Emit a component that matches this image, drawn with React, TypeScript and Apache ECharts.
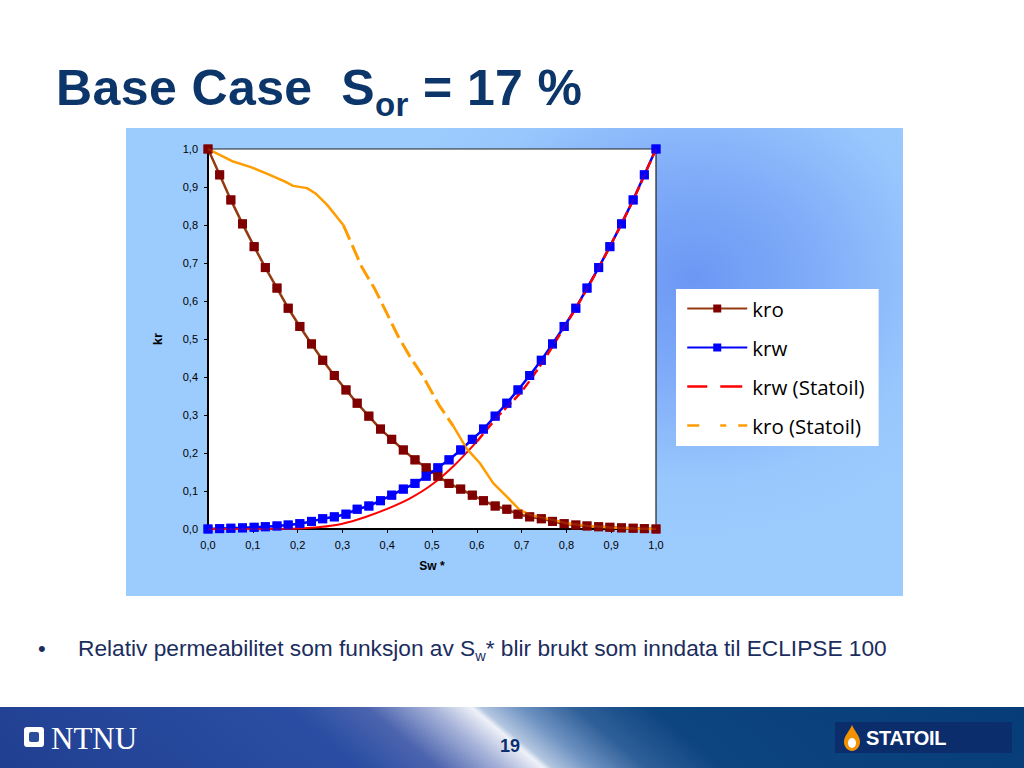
import React, { useEffect, useRef } from "react";
import * as echarts from "echarts";

// Normalised water saturation Sw* of the 40 tabulated rows
const swPoints = [
  0, 0.026, 0.051, 0.077, 0.103, 0.128, 0.154, 0.179, 0.205, 0.231,
  0.256, 0.282, 0.308, 0.333, 0.359, 0.385, 0.41, 0.436, 0.462, 0.487,
  0.513, 0.538, 0.564, 0.59, 0.615, 0.641, 0.667, 0.692, 0.718, 0.744,
  0.769, 0.795, 0.821, 0.846, 0.872, 0.897, 0.923, 0.949, 0.974, 1.0,
];
const kroValues = [
  1.0, 0.932, 0.866, 0.803, 0.743, 0.688, 0.634, 0.581, 0.533, 0.487,
  0.444, 0.404, 0.366, 0.331, 0.297, 0.263, 0.236, 0.208, 0.182, 0.161,
  0.139, 0.12, 0.105, 0.089, 0.0745, 0.0605, 0.052, 0.039, 0.032, 0.027,
  0.02, 0.014, 0.0105, 0.008, 0.006, 0.0045, 0.003, 0.002, 0.001, 0,
];
const krwValues = [
  0, 0.001, 0.002, 0.003, 0.0045, 0.006, 0.008, 0.0105, 0.014, 0.02,
  0.027, 0.032, 0.039, 0.052, 0.0605, 0.0745, 0.089, 0.105, 0.12, 0.139,
  0.161, 0.182, 0.208, 0.236, 0.263, 0.297, 0.331, 0.366, 0.404, 0.444,
  0.487, 0.533, 0.581, 0.634, 0.688, 0.743, 0.803, 0.866, 0.932, 1.0,
];
// Statoil curves
const krwStatoilSw = [
  0, 0.05, 0.1, 0.15, 0.2, 0.25, 0.3, 0.35, 0.4, 0.45, 0.5,
  0.55, 0.6, 0.65, 0.7, 0.75, 0.8, 0.85, 0.9, 0.95, 1.0,
];
const krwStatoilValues = [
  0, 0, 0, 0, 0.001, 0.005, 0.014, 0.031, 0.053, 0.08, 0.117,
  0.168, 0.23, 0.3, 0.362, 0.445, 0.54, 0.64, 0.75, 0.868, 1.0,
];
const krwStatoilDashFrom = 12;

const kroStatoilSw = [
  0, 0.025, 0.056, 0.094, 0.13, 0.172, 0.19, 0.221, 0.24, 0.266, 0.302,
  0.317, 0.343, 0.373, 0.399, 0.425, 0.451, 0.481, 0.507, 0.518, 0.548,
  0.577, 0.607, 0.637, 0.667, 0.696, 0.719, 0.77, 0.8, 0.85, 0.9, 0.95, 1.0,
];
const kroStatoilValues = [
  1.0, 0.985, 0.967, 0.953, 0.936, 0.914, 0.903, 0.897, 0.883, 0.853, 0.8,
  0.76, 0.69, 0.63, 0.568, 0.506, 0.453, 0.4, 0.344, 0.322, 0.27,
  0.212, 0.173, 0.12, 0.085, 0.05, 0.037, 0.024, 0.015, 0.008, 0.004, 0.001, 0,
];
const kroStatoilDashFrom = 10;
const kroStatoilDashTo = 20;

const legendNames = ["kro", "krw", "krw (Statoil)", "kro (Statoil)"];

const pairs = (xs: number[], ys: number[]) => xs.map((x, i) => [x, ys[i]]);
const fmt = (v: number) => v.toFixed(1).replace(".", ",");

function Chart() {
  const ref = useRef<HTMLDivElement>(null);
  useEffect(() => {
    if (!ref.current) return;
    const chart = echarts.init(ref.current, undefined, { renderer: "svg" });
    const kroData = pairs(swPoints, kroValues);
    const krwData = pairs(swPoints, krwValues);
    const redAll = pairs(krwStatoilSw, krwStatoilValues);
    const orgAll = pairs(kroStatoilSw, kroStatoilValues);
    const labelFont = { fontFamily: "Liberation Sans, Arial, sans-serif", fontSize: 11, color: "#000" };
    const kroColor = "#800000";
    const kroLine = "#943a12";
    const blue = "#0000ff";
    const red = "#ff0000";
    const orange = "#ff9c00";
    const noSymbol = { color: "rgba(0,0,0,0)", borderWidth: 0 };
    chart.setOption({
      animation: false,
      backgroundColor: "transparent",
      grid: {
        left: 82,
        top: 21,
        width: 448,
        height: 380,
        show: true,
        backgroundColor: "#ffffff",
        borderColor: "#222",
        borderWidth: 1.2,
      },
      legend: {
        data: [
          { name: legendNames[0] },
          { name: legendNames[1] },
          { name: legendNames[2], itemStyle: noSymbol, lineStyle: { type: [20, 13, 22, 10], width: 2.5 } },
          { name: legendNames[3], itemStyle: noSymbol, lineStyle: { type: [12, 21, 6, 12, 9, 10], width: 2.5 } },
        ],
        orient: "vertical",
        left: 550,
        top: 161,
        backgroundColor: "#ffffff",
        padding: [9, 14, 10, 10],
        itemGap: 18,
        itemWidth: 60,
        itemHeight: 10,
        selectedMode: false,
        textStyle: { fontSize: 20.5, fontFamily: "Open Sans, sans-serif", color: "#000" },
      },
      xAxis: {
        type: "value",
        min: 0,
        max: 1,
        interval: 0.1,
        name: "Sw *",
        nameLocation: "middle",
        nameGap: 31,
        nameTextStyle: { ...labelFont, fontSize: 12, fontWeight: "bold" },
        axisLine: { show: true, lineStyle: { color: "#000", width: 2 } },
        axisTick: { show: true, length: 4, lineStyle: { color: "#000", width: 1 } },
        axisLabel: { ...labelFont, margin: 10, formatter: fmt },
        splitLine: { show: false },
      },
      yAxis: {
        type: "value",
        min: 0,
        max: 1,
        interval: 0.1,
        name: "kr",
        nameLocation: "middle",
        nameRotate: 90,
        nameGap: 44,
        nameTextStyle: { ...labelFont, fontSize: 13, fontWeight: "bold" },
        axisLine: { show: true, lineStyle: { color: "#000", width: 2 } },
        axisTick: { show: true, length: 4, lineStyle: { color: "#000", width: 1 } },
        axisLabel: { ...labelFont, margin: 10, formatter: fmt },
        splitLine: { show: false },
      },
      series: [
        {
          name: "kro",
          type: "line",
          data: kroData,
          symbol: "rect",
          symbolSize: 9,
          itemStyle: { color: kroColor },
          lineStyle: { color: kroLine, width: 2.5 },
          emphasis: { disabled: true },
          z: 2,
        },
        {
          name: "krw",
          type: "line",
          data: krwData,
          symbol: "rect",
          symbolSize: 9,
          itemStyle: { color: blue },
          lineStyle: { color: blue, width: 2.5 },
          emphasis: { disabled: true },
          z: 2,
        },
        {
          name: "krw (Statoil)",
          type: "line",
          data: redAll.slice(krwStatoilDashFrom),
          symbol: "none",
          smooth: 0.3,
          lineStyle: { color: red, width: 2.5, type: [10, 4] },
          itemStyle: { color: red },
          emphasis: { disabled: true },
          z: 3,
        },
        {
          name: "krw (Statoil) solid",
          type: "line",
          data: redAll.slice(0, krwStatoilDashFrom + 1),
          symbol: "none",
          smooth: 0.3,
          lineStyle: { color: red, width: 2 },
          itemStyle: { color: red },
          emphasis: { disabled: true },
          z: 3,
        },
        {
          name: "kro (Statoil)",
          type: "line",
          data: orgAll.slice(kroStatoilDashFrom, kroStatoilDashTo + 1),
          symbol: "none",
          lineStyle: { color: orange, width: 3, type: [16, 6] },
          itemStyle: { color: orange },
          emphasis: { disabled: true },
          z: 3,
        },
        {
          name: "kro (Statoil) solid a",
          type: "line",
          data: orgAll.slice(0, kroStatoilDashFrom + 1),
          symbol: "none",
          lineStyle: { color: orange, width: 2.5 },
          itemStyle: { color: orange },
          emphasis: { disabled: true },
          z: 3,
        },
        {
          name: "kro (Statoil) solid b",
          type: "line",
          data: orgAll.slice(kroStatoilDashTo),
          symbol: "none",
          lineStyle: { color: orange, width: 2.5 },
          itemStyle: { color: orange },
          emphasis: { disabled: true },
          z: 3,
        },
        {
          name: "kro markers",
          type: "scatter",
          data: kroData,
          symbol: "rect",
          symbolSize: 9,
          itemStyle: { color: kroColor },
          silent: true,
          z: 4,
        },
        {
          name: "krw markers",
          type: "scatter",
          data: krwData,
          symbol: "rect",
          symbolSize: 9,
          itemStyle: { color: blue },
          silent: true,
          z: 4,
        },
      ],
    });
    return () => chart.dispose();
  }, []);
  return (
    <div
      ref={ref}
      style={{
        position: "absolute",
        left: 126,
        top: 128,
        width: 777,
        height: 468,
        background:
          "radial-gradient(ellipse 320px 270px at 568px 150px, #6c98f4 0%, #7eaaf8 35%, #98c7fd 75%, #9ccbfe 100%)",
      }}
    />
  );
}

export default function App() {
  const navy = "#0c3569";
  return (
    <div
      style={{
        position: "fixed",
        left: 0,
        top: 0,
        width: 1024,
        height: 768,
        background: "#ffffff",
        overflow: "hidden",
        fontFamily: "Liberation Sans, Arial, sans-serif",
      }}
    >
      <div
        style={{
          position: "absolute",
          left: 56,
          top: 60,
          fontSize: 50,
          lineHeight: "56px",
          fontWeight: "bold",
          color: navy,
          whiteSpace: "nowrap",
          letterSpacing: 0.4,
        }}
      >
        Base Case&nbsp; S
        <span style={{ fontSize: 33, position: "relative", top: 11 }}>or</span>
        {" = 17 %"}
      </div>

      <Chart />

      <div
        style={{
          position: "absolute",
          left: 38,
          top: 636,
          fontSize: 22,
          lineHeight: "26px",
          color: "#1b2d5e",
        }}
      >
        •
      </div>
      <div
        style={{
          position: "absolute",
          left: 78,
          top: 635,
          fontSize: 22.7,
          lineHeight: "26px",
          color: "#1b2d5e",
          whiteSpace: "nowrap",
        }}
      >
        Relativ permeabilitet som funksjon av S
        <span style={{ fontSize: 14.5, position: "relative", top: 5 }}>w</span>* blir brukt som inndata til ECLIPSE 100
      </div>

      <div
        style={{
          position: "absolute",
          left: 0,
          top: 707,
          width: 1024,
          height: 61,
          background:
            "linear-gradient(40deg, #213f91 0%, #2a4ea3 33%, #4c64ae 40%, #a9b5da 46%, #eef1f8 49.6%, #b3c6e0 50.4%, #6f93c2 54%, #2f5f98 59%, #0d4580 66%, #063d79 100%)",
        }}
      />
      <div
        style={{
          position: "absolute",
          left: 24,
          top: 727,
          width: 20,
          height: 20,
          background: "#ffffff",
          borderRadius: 3,
        }}
      >
        <div
          style={{
            position: "absolute",
            left: 5,
            top: 5,
            width: 10,
            height: 10,
            background: "#2a4d9c",
            borderRadius: 2,
          }}
        />
      </div>
      <div
        style={{
          position: "absolute",
          left: 51,
          top: 723,
          fontSize: 31,
          lineHeight: "31px",
          fontFamily: "Liberation Serif, Times New Roman, serif",
          color: "#ffffff",
        }}
      >
        NTNU
      </div>
      <div
        style={{
          position: "absolute",
          left: 500,
          top: 737,
          fontSize: 18,
          lineHeight: "18px",
          fontWeight: "bold",
          color: "#0b2f6e",
        }}
      >
        19
      </div>
      <div
        style={{
          position: "absolute",
          left: 835,
          top: 722,
          width: 177,
          height: 31,
          background: "#0c2d6c",
        }}
      >
        <svg width="20" height="26" style={{ position: "absolute", left: 7, top: 3 }} viewBox="0 0 20 26">
          <path d="M10 0 C13 7 18 11 18 17 C18 22 14 26 10 26 C6 26 2 22 2 17 C2 11 7 7 10 0 Z" fill="#f39200" />
          <ellipse cx="10" cy="18" rx="4" ry="5" fill="#ffffff" />
        </svg>
        <div
          style={{
            position: "absolute",
            left: 31,
            top: 6,
            fontSize: 20,
            lineHeight: "20px",
            fontWeight: "bold",
            color: "#ffffff",
            letterSpacing: -0.3,
          }}
        >
          STATOIL
        </div>
      </div>
    </div>
  );
}
